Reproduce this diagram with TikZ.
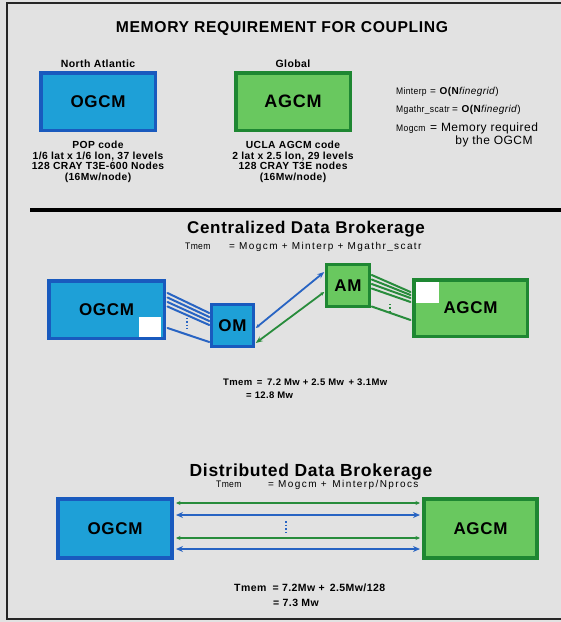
\documentclass[tikz,border=0pt]{standalone}
\usepackage{fontspec}
\usepackage{graphicx}
\setmainfont{Liberation Sans}[LetterSpace=4]
\newfontfamily\widefont{Liberation Sans}[LetterSpace=14]
\newcommand\narrowtxt[1]{\scalebox{0.9}[1]{#1}}
\usetikzlibrary{arrows.meta,calc}
\definecolor{bg}{RGB}{226,226,226}
\definecolor{bfill}{RGB}{30,160,215}
\definecolor{bdraw}{RGB}{25,90,190}
\definecolor{gfill}{RGB}{105,200,95}
\definecolor{gdraw}{RGB}{30,135,50}
\definecolor{bline}{RGB}{40,100,195}
\definecolor{gline}{RGB}{40,140,60}
\begin{document}
\begin{tikzpicture}[x=1pt,y=-1pt,
  fs/.style={font=\fontsize{#1}{#1}\selectfont},
  fsb/.style={font=\fontsize{#1}{#1}\selectfont\bfseries},
  fsw/.style={font=\widefont\fontsize{#1}{#1}\selectfont},
  txt/.style={inner sep=0pt, anchor=base west},
  ctxt/.style={inner sep=0pt, anchor=base},
  obox/.style={draw=bdraw, fill=bfill, line width=3.5pt, inner sep=0pt, fsb=17},
  abox/.style={draw=gdraw, fill=gfill, line width=3.5pt, inner sep=0pt, fsb=17},
  wsq/.style={fill=white, draw=none, inner sep=0pt},
  bund/.style={line width=2pt, line cap=round},
  barr/.style={draw=bline, line width=2pt, {Stealth[length=7pt,width=6pt]}-{Stealth[length=7pt,width=6pt]}},
  garr/.style={draw=gline, line width=1.4pt, {Stealth[length=4.5pt,width=4pt]}-{Stealth[length=4.5pt,width=4pt]}}
]
\useasboundingbox (0,0) rectangle (561,622);
\fill[bg] (0,0) rectangle (561,622);
% frame
\draw[line width=1.5pt, black!85] (561,3) -- (7,3) -- (7,619) -- (561,619);

% ---------- top section ----------
\node[ctxt, fsb=15.7] (title) at (282,32.5) {MEMORY REQUIREMENT FOR COUPLING};

\node[ctxt, fsb=10.5] (na) at (98,67.5) {North Atlantic};
\node[ctxt, fsb=10.5] (gl) at (293,67.5) {Global};

\node[obox, minimum width=114.5pt, minimum height=57.5pt] (og1) at (98,101.5) {OGCM};
\node[abox, minimum width=114.5pt, minimum height=57.5pt, fsb=18] (ag1) at (293,101.5) {AGCM};

\node[ctxt, fsb=10.3] (pc1) at (98,148.5) {POP code};
\node[ctxt, fsb=10.3] (pc2) at (98,159.2) {1/6 lat x 1/6 lon, 37 levels};
\node[ctxt, fsb=10.3] (pc3) at (98,169.9) {128 CRAY T3E-600 Nodes};
\node[ctxt, fsb=10.3] (pc4) at (98,180.6) {(16Mw/node)};

\node[ctxt, fsb=10.3] (uc1) at (293,148.5) {UCLA AGCM code};
\node[ctxt, fsb=10.3] (uc2) at (293,159.2) {2 lat x 2.5 lon, 29 levels};
\node[ctxt, fsb=10.3] (uc3) at (293,169.9) {128 CRAY T3E nodes};
\node[ctxt, fsb=10.3] (uc4) at (293,180.6) {(16Mw/node)};

\node[txt, fs=9.5] (mi) at (396,94.5) {\narrowtxt{Minterp}};
\node[txt, fs=10] (mie) at (430,94.5) {= \textbf{O(N}\textit{finegrid})};
\node[txt, fs=9.5] (mg) at (396,112.5) {\narrowtxt{Mgathr\_scatr}};
\node[txt, fs=10] (mge) at (452,112.5) {= \textbf{O(N}\textit{finegrid})};
\node[txt, fs=9.5] (mo) at (396,131.5) {\narrowtxt{Mogcm}};
\node[txt, fs=12] (moe) at (430,131.5) {= Memory required};
\node[ctxt, fs=12] (mo2) at (494,144) {by the OGCM};

% divider
\draw[line width=4pt, black] (30,210) -- (561,210);

% ---------- centralized ----------
\node[ctxt, fsb=17] (ct) at (306,233) {Centralized Data Brokerage};
\node[txt, fs=9.5] (ct1) at (185,249.5) {\narrowtxt{Tmem}};
\node[txt, fsw=10] (ct2) at (229,249.5) {= Mogcm + Minterp + Mgathr\_scatr};

\node[obox, minimum width=115.5pt, minimum height=57.5pt] (og2) at (106.5,309.5) {OGCM};
\node[wsq, minimum width=22pt, minimum height=20pt] (ws1) at (150,326.5) {};
\node[obox, minimum width=41.5pt, minimum height=41.5pt, line width=3pt] (om) at (232.5,325.5) {OM};
\node[abox, minimum width=42.5pt, minimum height=41.5pt, line width=3pt] (am) at (348,285.5) {AM};
\node[abox, minimum width=113.5pt, minimum height=56.5pt] (ag2) at (470.5,308) {AGCM};
\node[wsq, minimum width=23pt, minimum height=21pt] (ws2) at (427.5,292.5) {};

% OGCM -> OM bundle
\foreach \a/\b in {16.5/12.5, 12/8.5, 7.5/4.5, 3/0.5, -18.5/-16.5}
  \draw[bund, bline] ([yshift=\a pt, xshift=1.5pt]og2.east) -- ([yshift=\b pt, xshift=-1pt]om.west);
\draw[bline, line width=1.3pt, dotted] (187,318) -- (187,331);

% AM -> AGCM bundle
\foreach \a/\b in {10.5/16, 6/13, 1.5/10, -3/6, -21/-12}
  \draw[bund, gline] ([yshift=\a pt, xshift=1pt]am.east) -- ([yshift=\b pt, xshift=-1.5pt]ag2.west);
\draw[gline, line width=1.3pt, dotted] (390,304) -- (390,311);

% OM <-> AM
\draw[draw=bline, line width=1.8pt, {Stealth[length=4pt,width=3.5pt]}-{Stealth[length=7pt,width=5.5pt]}]
  ([yshift=-2.5pt, xshift=1pt]om.east) -- ([yshift=13.5pt, xshift=-1pt]am.west);
\draw[draw=gline, line width=1.8pt, {Stealth[length=4pt,width=3.5pt]}-{Stealth[length=7pt,width=5.5pt]}]
  ([yshift=-6.5pt, xshift=-1pt]am.west) -- ([yshift=-17.5pt, xshift=1pt]om.east);

\node[txt, fsb=9.5] (cb1) at (223,385.5) {Tmem\, = \,7.2 Mw + 2.5 Mw \,+ 3.1Mw};
\node[txt, fsb=9.5] (cb2) at (246,398.5) {= 12.8 Mw};

% ---------- distributed ----------
\node[ctxt, fsb=17.5] (dt) at (311,476) {Distributed Data Brokerage};
\node[txt, fs=9.5] (dt1) at (216,487.5) {\narrowtxt{Tmem}};
\node[txt, fsw=10] (dt2) at (268,487.5) {= Mogcm + \,Minterp/Nprocs};

\node[obox, minimum width=114pt, minimum height=59pt, line width=4pt] (og3) at (115,528.5) {OGCM};
\node[abox, minimum width=113pt, minimum height=59pt, line width=4pt] (ag3) at (480.5,528.5) {AGCM};

\draw[garr] ([yshift=25.5pt, xshift=2pt]og3.east) -- ([yshift=25.5pt, xshift=-2pt]ag3.west);
\draw[barr] ([yshift=13.5pt, xshift=2pt]og3.east) -- ([yshift=13.5pt, xshift=-2pt]ag3.west);
\draw[garr] ([yshift=-9.5pt, xshift=2pt]og3.east) -- ([yshift=-9.5pt, xshift=-2pt]ag3.west);
\draw[barr] ([yshift=-20.5pt, xshift=2pt]og3.east) -- ([yshift=-20.5pt, xshift=-2pt]ag3.west);
\draw[bline, line width=1.6pt, dotted] (286,521) -- (286,533);

\node[txt, fsb=10.5] (db1) at (234,591.5) {Tmem\; = 7.2Mw + \,2.5Mw/128};
\node[txt, fsb=10.5] (db2) at (273,606.5) {= 7.3 Mw};
\end{tikzpicture}
\end{document}
